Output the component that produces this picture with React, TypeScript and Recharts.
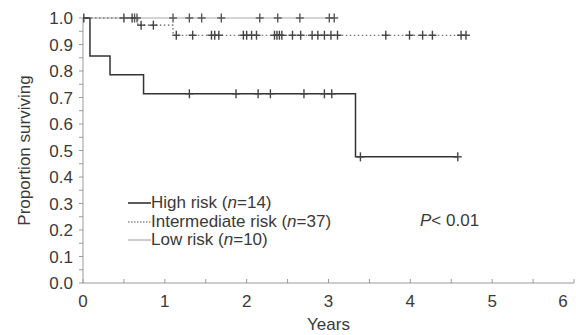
import { ComposedChart, Line, XAxis, YAxis, Label } from "recharts"

// Kaplan-Meier curves: [time in years, survival after the drop]
const highEvents = [
  [0.085, 0.857],
  [0.33, 0.786],
  [0.74, 0.714],
  [3.33, 0.476],
]
const highCensored = [1.3, 1.87, 2.14, 2.29, 2.7, 2.95, 3.04, 3.39, 4.58]

const intermediateEvents = [
  [0.67, 0.973],
  [1.1, 0.935],
]
const intermediateCensored = [
  0.01, 0.5, 0.6, 0.71, 0.86, 1.14, 1.34, 1.57, 1.61, 1.66, 1.96, 2.0, 2.06, 2.12,
  2.34, 2.37, 2.4, 2.43, 2.56, 2.66, 2.8, 2.87, 2.95, 3.03, 3.11, 3.7, 3.99, 4.15,
  4.27, 4.62, 4.68,
]

const lowEvents: number[][] = []
const lowCensored = [0.63, 0.66, 1.1, 1.3, 1.45, 1.69, 2.16, 2.38, 2.65, 3.01, 3.07]

const xTicks = [0, 0.5, 1, 1.5, 2, 2.5, 3, 3.5, 4, 4.5, 5, 5.5, 6]
const yTicks = [
  0, 0.05, 0.1, 0.15, 0.2, 0.25, 0.3, 0.35, 0.4, 0.45, 0.5, 0.55, 0.6, 0.65, 0.7,
  0.75, 0.8, 0.85, 0.9, 0.95, 1.0,
]

type Pt = { t: number; s: number; c: boolean }

function buildCurve(events: number[][], censored: number[]): Pt[] {
  const survAt = (t: number) => {
    let s = 1
    for (const [et, es] of events) if (et <= t) s = es
    return s
  }
  const pts: Pt[] = [{ t: 0, s: 1, c: false }]
  for (const [et, es] of events) pts.push({ t: et, s: es, c: false })
  for (const ct of censored) pts.push({ t: ct, s: survAt(ct), c: true })
  return pts.sort((a, b) => a.t - b.t)
}

const highData = buildCurve(highEvents, highCensored)
const intermediateData = buildCurve(intermediateEvents, intermediateCensored)
const lowData = buildCurve(lowEvents, lowCensored)

const FONT = "'Liberation Sans', Arial, sans-serif"
const TEXT = "#3a3a3a"
const AXIS = "#9a9a9a"
const FS = 17

function censorDot(color: string) {
  return (props: any) => {
    const { cx, cy, payload, index } = props
    if (!payload || !payload.c || cx == null || cy == null) return <g key={index} />
    return (
      <g key={index} stroke={color} strokeWidth={1.4}>
        <line x1={cx - 4} x2={cx + 4} y1={cy} y2={cy} />
        <line x1={cx} x2={cx} y1={cy - 4.5} y2={cy + 4.5} />
      </g>
    )
  }
}

const XTick = (props: any) => {
  const { x, y, payload } = props
  const v = payload.value as number
  const major = Number.isInteger(v)
  // the last label sits pulled in from the right edge, as in the figure
  const lx = v === 6 ? x - 11 : x
  return (
    <g>
      <line x1={x} x2={x} y1={y - 4} y2={y} stroke={AXIS} />
      {major && (
        <text x={lx} y={y + 24} textAnchor="middle" fontSize={FS} fill={TEXT} fontFamily={FONT}>
          {v}
        </text>
      )}
    </g>
  )
}

const legendRows = [
  { label: "High risk", n: "14", color: "#333", dash: "none", width: 1.6, top: 193 },
  { label: "Intermediate risk", n: "37", color: "#555", dash: "1.5 1.5", width: 1, top: 212 },
  { label: "Low risk", n: "10", color: "#aaa", dash: "none", width: 1.2, top: 230 },
]

export default function App() {
  return (
    <div style={{ position: "absolute", left: 0, top: 0, width: 576, height: 335, background: "#fff" }}>
      <ComposedChart width={576} height={335} margin={{ top: 18, right: 2, bottom: 0, left: 0 }}>
        <XAxis
          type="number"
          dataKey="t"
          domain={[0, 6]}
          ticks={xTicks}
          interval={0}
          stroke={AXIS}
          tickLine={false}
          tickSize={0}
          tickMargin={0}
          tick={<XTick />}
          height={52}
          allowDataOverflow
        >
          <Label value="Years" position="insideBottom" offset={5} fill={TEXT} fontSize={FS} fontFamily={FONT} />
        </XAxis>
        <YAxis
          type="number"
          dataKey="s"
          domain={[0, 1]}
          ticks={yTicks}
          interval={0}
          width={83}
          stroke={AXIS}
          tickSize={4}
          tickMargin={6}
          tick={{ fontSize: FS, fill: TEXT, fontFamily: FONT }}
          tickFormatter={(v: number) => (Math.round(v * 100) % 10 === 0 ? v.toFixed(1) : "")}
        >
          <Label
            value="Proportion surviving"
            angle={-90}
            position="insideLeft"
            offset={24}
            style={{ textAnchor: "middle" }}
            fill={TEXT}
            fontSize={FS}
            fontFamily={FONT}
          />
        </YAxis>
        <Line
          data={lowData}
          dataKey="s"
          type="stepAfter"
          stroke="#aaa"
          strokeWidth={1.2}
          dot={censorDot("#555")}
          activeDot={false}
          isAnimationActive={false}
        />
        <Line
          data={intermediateData}
          dataKey="s"
          type="stepAfter"
          stroke="#555"
          strokeWidth={1.1}
          strokeDasharray="1.5 2.5"
          dot={censorDot("#444")}
          activeDot={false}
          isAnimationActive={false}
        />
        <Line
          data={highData}
          dataKey="s"
          type="stepAfter"
          stroke="#333"
          strokeWidth={1.5}
          dot={censorDot("#444")}
          activeDot={false}
          isAnimationActive={false}
        />
      </ComposedChart>
      {legendRows.map((r) => (
        <div
          key={r.label}
          style={{
            position: "absolute",
            left: 128,
            top: r.top,
            height: 19,
            display: "flex",
            alignItems: "center",
            fontFamily: FONT,
            fontSize: FS,
            color: TEXT,
            whiteSpace: "nowrap",
          }}
        >
          <svg width={23} height={19} style={{ display: "block" }}>
            <line x1={0} x2={23} y1={10} y2={10} stroke={r.color} strokeWidth={r.width} strokeDasharray={r.dash} />
          </svg>
          <span>
            {r.label} (<i>n</i>={r.n})
          </span>
        </div>
      ))}
      <div
        style={{
          position: "absolute",
          left: 420,
          top: 211,
          fontFamily: FONT,
          fontSize: FS,
          color: TEXT,
          whiteSpace: "nowrap",
        }}
      >
        <i>P</i>&lt; 0.01
      </div>
    </div>
  )
}
